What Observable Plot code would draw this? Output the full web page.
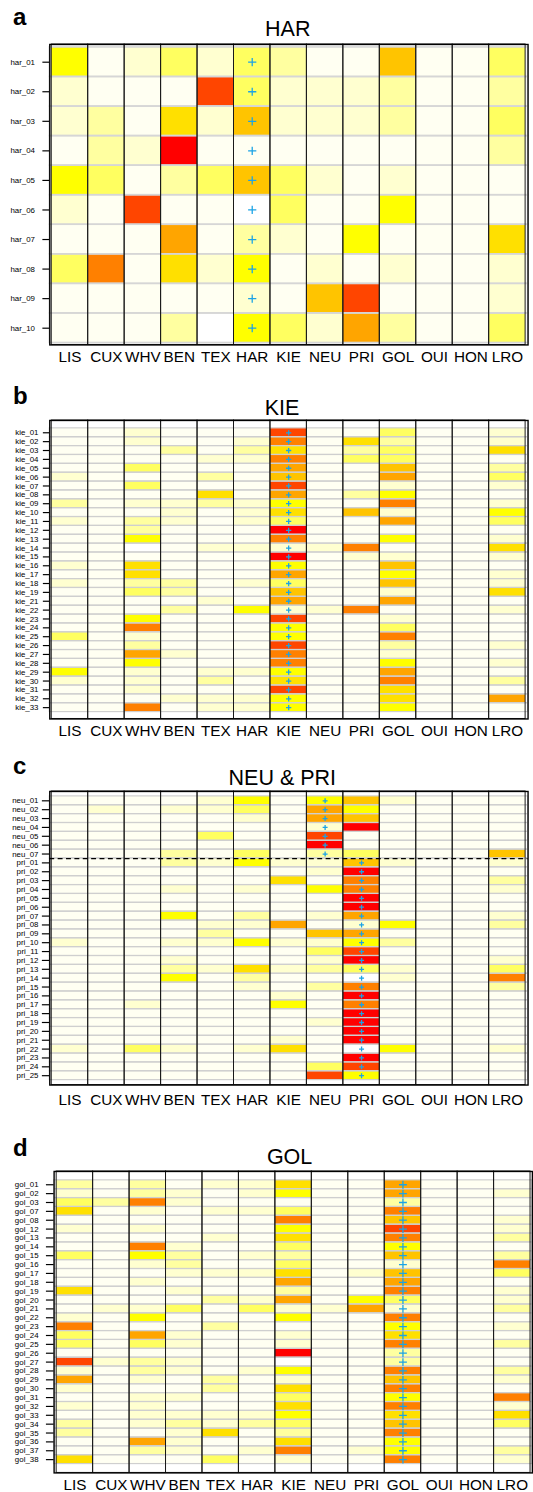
<!DOCTYPE html>
<html><head><meta charset="utf-8">
<script src="https://cdn.jsdelivr.net/npm/d3@7"></script>
<script src="https://cdn.jsdelivr.net/npm/@observablehq/plot@0.6"></script>
<style>
html,body{margin:0;padding:0;background:#fff;overflow:hidden;}
#root{position:relative;width:533px;height:1492px;overflow:hidden;color:#000;font-family:"Liberation Sans",Arial,Helvetica,sans-serif;}
.panel{position:absolute;left:0;}
#labels{position:absolute;left:0;top:0;}
</style></head><body><div id="root"></div>
<script>
// ---------- data ----------
const columns = ["LIS","CUX","WHV","BEN","TEX","HAR","KIE","NEU","PRI","GOL","OUI","HON","LRO"];
// value level codes (w = white, 0 = ivory ... a = red)
const levels  = ["w","0","1","2","3","4","5","6","7","8","9","a"];
const palette = ["#FFFFFF","#FFFFF2","#FFFFD0","#FFFFA0","#FFFF60","#FFFF00","#FFE000","#FFC400","#FFA500","#FF8000","#FF4500","#FF0000"];

const harRows = ["har_01","har_02","har_03","har_04","har_05","har_06","har_07","har_08","har_09","har_10"];
const harValues = [
"4013132006003","1000931112002","1205161112003","021a000000002","4302363101000",
"10900w3004000","0007021040005","3805140101001","0000010690001","0002w43172003"];

const kieRows = ["kie_01","kie_02","kie_03","kie_04","kie_05","kie_06","kie_07","kie_08","kie_09","kie_10",
"kie_11","kie_12","kie_13","kie_14","kie_15","kie_16","kie_17","kie_18","kie_19","kie_21","kie_22","kie_23",
"kie_24","kie_25","kie_26","kie_27","kie_28","kie_29","kie_30","kie_31","kie_32","kie_33"];
const kieValues = [
"0010009003001","0010018052001","0002025023005","0000118033000","0030007006002",
"1000206007003","0030009001001","0000507024000","2011214008001","0001015061004",
"1021013007003","002000a000000","0040008004001","00w0111180005","000000a011001",
"1050004006000","0050007004001","1022013006001","0032006001005","0000107007000",
"0002041180001","0040009001000","0080004003000","3010004008000","0020009002001",
"0071008001000","0040008004001","4010114007000","1010205008002","0010009005000",
"0001114005007","0080114004000"];

const neuPriRows = ["neu_01","neu_02","neu_03","neu_04","neu_05","neu_06","neu_07",
"pri_01","pri_02","pri_03","pri_04","pri_05","pri_06","pri_07","pri_08","pri_09","pri_10","pri_11","pri_12",
"pri_13","pri_14","pri_15","pri_16","pri_17","pri_18","pri_19","pri_20","pri_21","pri_22","pri_23","pri_24","pri_25"];
const neuPriValues = [
"0000140461000","0101130740000","0000010760000","00000001a0000","0000300900000",
"0000000a00000","0002030230006",
"0002141161001","00000001a0000","0000005080002","0001010480001","00000000a0000",
"00000000a0000","0004020170001","0000117014002","0000200670000","1001141142000",
"0000000390000","00010001a0001","0002151231003","00040200w1008","0000010280002",
"00000010a0000","0010004080000","00000000a0000","00000001a0000","00000000a0000",
"00000010a0000","10310150w4001","00000000a0000","0000000390000","0000000940000"];
const neuPriDivider = ["neu_07"];

const golRows = ["gol_01","gol_02","gol_03","gol_07","gol_08","gol_12","gol_13","gol_14","gol_15","gol_16",
"gol_17","gol_18","gol_19","gol_20","gol_21","gol_22","gol_23","gol_24","gol_25","gol_26","gol_27","gol_28",
"gol_29","gol_30","gol_31","gol_32","gol_33","gol_34","gol_35","gol_36","gol_37","gol_38"];
const golValues = [
"2020115007000","1021014007001","3281000002000","5010113008000","0000008006001",
"1010004009001","0000105008002","0081003004000","3042012006002","0012003001008",
"0001115016003","0010007007000","5001002008001","0000217043001","0113031171002",
"1040004008000","8000200004001","3071001005000","3031001008002","000000a002000",
"912100w002000","1021014008002","7010201006001","1000205008000","0011003004008",
"1010005008001","0011114005005","2012123006003","2001502008000","0071005004000",
"0021018014002","5000301008001"];

// ---------- layout ----------
const panels = [
  {letter:"a", title:"HAR", rows:harRows, values:harValues, top:44, bottom:349, left:50,
   titleX:287.8, titleY:35.7, letterY:24.5, xPad:6.8, yTick:7, yPad:8, plusR:2.8, rowStroke:"#d6d6d6", rowW:1.6},
  {letter:"b", title:"KIE", rows:kieRows, values:kieValues, top:420, bottom:723, left:50,
   titleX:282, titleY:415, letterY:404, xPad:6.5, yTick:6.5, yPad:5, plusR:1.85, rowStroke:"#cfcfcf", rowW:1.2},
  {letter:"c", title:"NEU & PRI", rows:neuPriRows, values:neuPriValues, top:791, bottom:1089, left:50,
   titleX:282.3, titleY:785, letterY:774, xPad:9, yTick:7.5, yPad:4, plusR:1.75, rowStroke:"#cfcfcf", rowW:1.2, divider:neuPriDivider},
  {letter:"d", title:"GOL", rows:golRows, values:golValues, top:1171, bottom:1477, left:54.4,
   titleX:289.6, titleY:1163.5, letterY:1156, xPad:6.1, yTick:7.8, yPad:8, plusR:2.7, rowStroke:"#cfcfcf", rowW:1.2}
];

const W = 541, plotW = 485.5, MT = 2, MB = 24;
const root = document.getElementById("root");

for (const p of panels) {
  const data = p.rows.flatMap((r, i) => columns.map((c, j) => ({row: r, col: c, v: p.values[i][j]})));
  const selfData = p.rows.map(r => ({row: r, col: r.slice(0, 3).toUpperCase()}));
  const innerH = p.bottom - p.top;
  const band = innerH / p.rows.length;
  const marks = [
    Plot.cell(data, {x: "col", y: "row", fill: "v"}),
    Plot.cell(p.rows, {y: d => d, fill: "none", stroke: p.rowStroke, strokeWidth: p.rowW}),
    Plot.cell(columns, {x: d => d, fill: "none", stroke: "#1a1a1a", strokeWidth: 1}),
    Plot.dot(selfData, {x: "col", y: "row", symbol: "plus", r: p.plusR, stroke: "#1ba3e6", strokeWidth: 1.3}),
    Plot.frame({stroke: "#000", strokeWidth: 1.4}),
    Plot.axisX({tickSize: 0, tickPadding: p.xPad, fontSize: 15.5, label: null}),
    Plot.axisY({tickSize: p.yTick, tickPadding: p.yPad, fontSize: 8, label: null, strokeWidth: 1.2})
  ];
  if (p.divider) {
    marks.push(Plot.ruleY(p.divider, {y: d => d, dy: band / 2, stroke: "#000", strokeWidth: 1.3, strokeDasharray: "5,3.5"}));
  }
  const chart = Plot.plot({
    width: W,
    height: MT + innerH + MB,
    marginLeft: p.left,
    marginRight: W - p.left - plotW,
    marginTop: MT,
    marginBottom: MB,
    x: {domain: columns, padding: 0, label: null, axis: null},
    y: {domain: p.rows, padding: 0, label: null, axis: null},
    color: {type: "ordinal", domain: levels, range: palette},
    style: {fontFamily: "Liberation Sans, Arial, Helvetica, sans-serif", background: "transparent", overflow: "visible", color: "#000"},
    marks
  });
  const div = document.createElement("div");
  div.className = "panel";
  div.style.top = (p.top - MT) + "px";
  div.appendChild(chart);
  root.appendChild(div);
}

// titles and panel letters
const ns = "http://www.w3.org/2000/svg";
const svg = document.createElementNS(ns, "svg");
svg.setAttribute("id", "labels");
svg.setAttribute("width", 533);
svg.setAttribute("height", 1492);
for (const p of panels) {
  const t = document.createElementNS(ns, "text");
  t.setAttribute("x", p.titleX); t.setAttribute("y", p.titleY);
  t.setAttribute("text-anchor", "middle");
  t.setAttribute("font-family", "Liberation Sans, Arial, Helvetica, sans-serif");
  t.setAttribute("font-size", "21.5");
  t.textContent = p.title;
  svg.appendChild(t);
  const l = document.createElementNS(ns, "text");
  l.setAttribute("x", 13); l.setAttribute("y", p.letterY);
  l.setAttribute("font-family", "Liberation Sans, Arial, Helvetica, sans-serif");
  l.setAttribute("font-size", "24"); l.setAttribute("font-weight", "bold");
  l.textContent = p.letter;
  svg.appendChild(l);
}
root.appendChild(svg);
</script>
</body></html>
